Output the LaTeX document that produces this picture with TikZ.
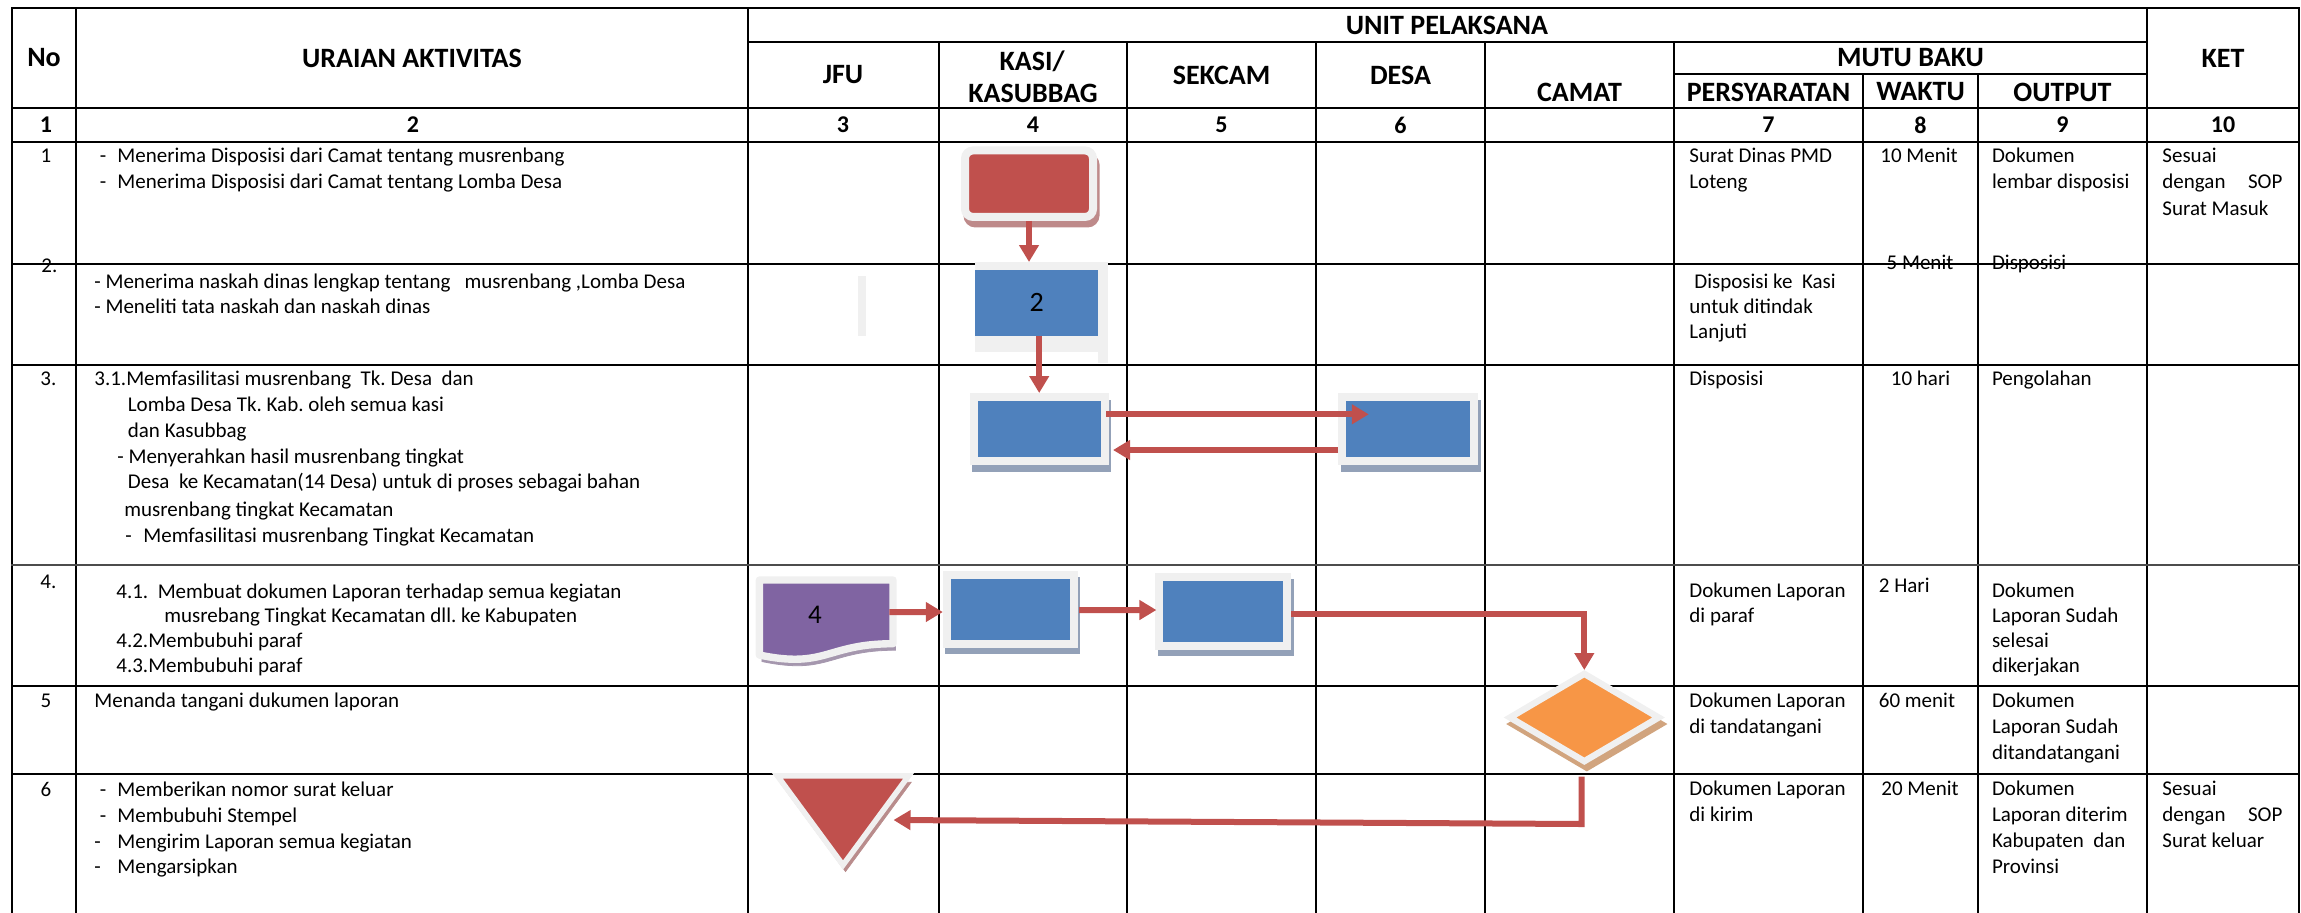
\documentclass[tikz,border=0pt]{standalone}
\usepackage{fontspec}
\setmainfont{Carlito}
\usetikzlibrary{arrows.meta,shapes.geometric,calc}
\frenchspacing
\definecolor{framegray}{HTML}{F0F0F0}
\definecolor{boxblue}{HTML}{4F81BD}
\definecolor{boxred}{HTML}{C0504D}
\definecolor{docpurple}{HTML}{8064A2}
\definecolor{decorange}{HTML}{F79646}
\definecolor{arrowred}{HTML}{C0504D}
\definecolor{blueshade}{HTML}{93A1B8}
\definecolor{redshade}{HTML}{BE8A8A}
\definecolor{purpleshade}{HTML}{A597AE}
\definecolor{orangeshade}{HTML}{D1A47E}
\definecolor{trishade}{HTML}{B98C8C}

\begin{document}
\begin{tikzpicture}[x=0.5pt,y=-0.5pt,
  gridline/.style={line width=1pt, black, line cap=rect},
  thinline/.style={line width=0.6pt, black!70, line cap=rect},
  hdr/.style={font=\fontsize{14}{16}\selectfont\bfseries, inner sep=0pt},
  num/.style={font=\fontsize{12}{14}\selectfont\bfseries, inner sep=0pt},
  txt/.style={font=\fontsize{10.5}{13}\selectfont, inner sep=0pt, anchor=base west},
  ctxt/.style={font=\fontsize{10.5}{13}\selectfont, inner sep=0pt, anchor=base},
  shadowed/.style={preaction={fill=#1, draw=#1, transform canvas={xshift=1.25pt,yshift=-3.25pt}}},
  procbox/.style={rectangle, fill=boxblue, draw=framegray, line width=4pt,
    inner sep=0pt, outer sep=0pt, shadowed=blueshade},
  flowarrow/.style={draw=arrowred, line width=3pt, -{Triangle[width=9.5pt,length=8.5pt]}},
]
\useasboundingbox (0,0) rectangle (2301,912);

% ---------- table grid ----------
\foreach \x in {12,76,748,2147,2299} \draw[gridline] (\x,8) -- (\x,912);
\foreach \x in {939,1127,1316,1485,1674} \draw[gridline] (\x,42) -- (\x,912);
\foreach \x in {1863,1978} \draw[gridline] (\x,74) -- (\x,912);
\draw[gridline] (748,42) -- (2147,42);
\draw[gridline] (1674,74) -- (2147,74);
\foreach \y in {8,108,142,263.5,364.5,686,774} \draw[gridline] (12,\y) -- (2299,\y);
\draw[thinline] (12,565) -- (2299,565);

% ---------- header ----------
\node[hdr] (hNo) at (44,58) {No};
\node[hdr] (hUraian) at (412,58) {URAIAN AKTIVITAS};
\node[hdr] (hUnit) at (1447,25) {UNIT PELAKSANA};
\node[hdr] (hJfu) at (843,75) {JFU};
\node[hdr] (hKasi) at (1032,61) {KASI/};
\node[hdr] (hKasub) at (1033,93) {KASUBBAG};
\node[hdr] (hSekcam) at (1221.5,75) {SEKCAM};
\node[hdr] (hDesa) at (1400.5,75) {DESA};
\node[hdr] (hCamat) at (1579.5,92) {CAMAT};
\node[hdr] (hMutu) at (1910.5,58) {MUTU BAKU};
\node[hdr] (hPers) at (1768.5,92) {PERSYARATAN};
\node[hdr] (hWaktu) at (1920.5,92) {WAKTU};
\node[hdr] (hOutput) at (2062.5,92) {OUTPUT};
\node[hdr] (hKet) at (2223,58) {KET};

% column numbers
\node[num] (c1) at (46,125) {1};
\node[num] (c2) at (413,125) {2};
\node[num] (c3) at (843,125) {3};
\node[num] (c4) at (1033,125) {4};
\node[num] (c5) at (1221.5,125) {5};
\node[num] (c6) at (1400.5,125) {6};
\node[num] (c7) at (1768.5,125) {7};
\node[num] (c8) at (1920.5,125) {8};
\node[num] (c9) at (2062.5,125) {9};
\node[num] (c10) at (2223,125) {10};

% ---------- row numbers ----------
\node[ctxt] (r1) at (46,162.5) {1};
\node[txt] (r2) at (41,272.5) {2.};
\node[txt] (r3) at (40,385.5) {3.};
\node[txt] (r4) at (40,588) {4.};
\node[ctxt] (r5) at (46,707) {5};
\node[ctxt] (r6) at (46,796.5) {6};

% ---------- activity descriptions ----------
\node[txt] (u1da) at (99.5,162.5) {-};
\node[txt] (u1a) at (117,162.5) {Menerima Disposisi dari Camat tentang musrenbang};
\node[txt] (u1db) at (99.5,188.5) {-};
\node[txt] (u1b) at (117,188.5) {Menerima Disposisi dari Camat tentang Lomba Desa};

\node[txt] (u2a) at (94,288.5) {- Menerima naskah dinas lengkap tentang\ \ \ musrenbang ,Lomba Desa};
\node[txt] (u2b) at (94,313.5) {- Meneliti tata naskah dan naskah dinas};

\node[txt] (u3a) at (94,385.5) {3.1.Memfasilitasi musrenbang\ \ Tk. Desa\ \ dan};
\node[txt] (u3b) at (127.5,411.5) {Lomba Desa Tk. Kab. oleh semua kasi};
\node[txt] (u3c) at (127.5,437.5) {dan Kasubbag};
\node[txt] (u3d) at (117,463.5) {- Menyerahkan hasil musrenbang tingkat};
\node[txt] (u3e) at (127.5,488.5) {Desa\ \ ke Kecamatan(14 Desa) untuk di proses sebagai bahan};
\node[txt] (u3f) at (124,516.5) {musrenbang tingkat Kecamatan};
\node[txt] (u3gd) at (125,542.5) {-};
\node[txt] (u3g) at (143,542.5) {Memfasilitasi musrenbang Tingkat Kecamatan};

\node[txt] (u4a) at (116,598) {4.1.\ \ Membuat dokumen Laporan terhadap semua kegiatan};
\node[txt] (u4b) at (164,622) {musrebang Tingkat Kecamatan dll. ke Kabupaten};
\node[txt] (u4c) at (116,647.5) {4.2.Membubuhi paraf};
\node[txt] (u4d) at (116,672.5) {4.3.Membubuhi paraf};

\node[txt] (u5a) at (94,707) {Menanda tangani dukumen laporan};

\node[txt] (u6da) at (99.5,796.5) {-};
\node[txt] (u6a) at (117,796.5) {Memberikan nomor surat keluar};
\node[txt] (u6db) at (99.5,822.5) {-};
\node[txt] (u6b) at (117,822.5) {Membubuhi Stempel};
\node[txt] (u6dc) at (94,848.5) {-};
\node[txt] (u6c) at (117,848.5) {Mengirim Laporan semua kegiatan};
\node[txt] (u6dd) at (94,873.5) {-};
\node[txt] (u6d) at (117,873.5) {Mengarsipkan};

% ---------- persyaratan ----------
\node[txt] (p1a) at (1689,162.5) {Surat\ Dinas\ PMD};
\node[txt] (p1b) at (1689,188.5) {Loteng};
\node[txt] (p2a) at (1694,288.5) {Disposisi ke\ \ Kasi};
\node[txt] (p2b) at (1689,313.5) {untuk ditindak};
\node[txt] (p2c) at (1689,338.5) {Lanjuti};
\node[txt] (p3a) at (1689,385.5) {Disposisi};
\node[txt] (p4a) at (1689,597) {Dokumen Laporan};
\node[txt] (p4b) at (1689,622) {di paraf};
\node[txt] (p5a) at (1689,707) {Dokumen Laporan};
\node[txt] (p5b) at (1689,733) {di tandatangani};
\node[txt] (p6a) at (1689,795.5) {Dokumen Laporan};
\node[txt] (p6b) at (1689,821) {di kirim};

% ---------- waktu ----------
\node[ctxt] (w1) at (1919,162.5) {10 Menit};
\node[ctxt] (w2) at (1920,269.5) {5 Menit};
\node[ctxt] (w3) at (1920.5,385.5) {10 hari};
\node[txt] (w4) at (1878.5,592) {2 Hari};
\node[txt] (w5) at (1878.5,707) {60 menit};
\node[txt] (w6) at (1881,795.5) {20 Menit};

% ---------- output ----------
\node[txt] (o1a) at (1991.6,162.5) {Dokumen};
\node[txt] (o1b) at (1991.6,188.5) {lembar disposisi};
\node[txt] (o2a) at (1991.6,269.5) {Disposisi};
\node[txt] (o3a) at (1991.6,385.5) {Pengolahan};
\node[txt] (o4a) at (1991.6,597) {Dokumen};
\node[txt] (o4b) at (1991.6,622) {Laporan Sudah};
\node[txt] (o4c) at (1991.6,647.5) {selesai};
\node[txt] (o4d) at (1991.6,672.5) {dikerjakan};
\node[txt] (o5a) at (1991.6,707) {Dokumen};
\node[txt] (o5b) at (1991.6,733) {Laporan Sudah};
\node[txt] (o5c) at (1991.6,759) {ditandatangani};
\node[txt] (o6a) at (1991.6,795.5) {Dokumen};
\node[txt] (o6b) at (1991.6,821) {Laporan diterim};
\node[txt] (o6c) at (1991.6,847) {Kabupaten\ \ dan};
\node[txt] (o6d) at (1991.6,873.5) {Provinsi};

% ---------- keterangan ----------
\node[txt] (k1a) at (2162,162.5) {Sesuai};
\node[txt] (k1b) at (2162,188.5) {\hbox to 60pt{dengan\hfill SOP}};
\node[txt] (k1c) at (2162,215.5) {Surat Masuk};
\node[txt] (k6a) at (2162,795.5) {Sesuai};
\node[txt] (k6b) at (2162,821) {\hbox to 60pt{dengan\hfill SOP}};
\node[txt] (k6c) at (2162,847) {Surat keluar};

% ---------- flowchart symbols ----------
% start terminal
\node[rectangle, rounded corners=4pt, fill=boxred, draw=framegray, line width=4pt,
  inner sep=0pt, outer sep=0pt, minimum width=64pt, minimum height=33.25pt,
  shadowed=redshade] (start) at (1029,183.7) {};

% light strip and framed process box of step 2
\fill[framegray] (858,276) rectangle (865.7,335.7);
\fill[framegray] (975,262.3) rectangle (1108.3,351.7);
\fill[framegray] (1098.3,351.7) rectangle (1108.3,363.3);
\node[rectangle, fill=boxblue, inner sep=0pt, outer sep=0pt, minimum width=61.65pt,
  minimum height=32.85pt, font=\fontsize{14}{16}\selectfont] (box2) at (1036.65,302.85) {2};

% step 3 boxes
\node[procbox, minimum width=65.5pt, minimum height=32pt] (box3a) at (1039.2,429) {};
\node[procbox, minimum width=66pt, minimum height=32pt] (box3b) at (1408,429) {};

% step 4: document and boxes
\node[rectangle, inner sep=0pt, outer sep=0pt, minimum width=66.8pt, minimum height=39.7pt] (doc) at (826.2,619.7) {};
\path[fill=docpurple, draw=framegray, line width=3.7pt, line join=round, shadowed=purpleshade]
  (759.4,580) -- (893,580) -- (893,643.7)
  .. controls (826.2,643.7) and (826.2,669) .. (759.4,655) -- cycle;
\node[font=\fontsize{13.5}{15}\selectfont, inner sep=0pt] (docnum) at (815,615) {4};
\node[procbox, minimum width=63.5pt, minimum height=34.65pt] (box4a) at (1010.3,609.3) {};
\node[procbox, minimum width=64pt, minimum height=34.65pt] (box4b) at (1223,611.3) {};

% step 5 decision
\node[diamond, fill=decorange, draw=framegray, line width=3.2pt, inner sep=0pt, outer sep=0pt,
  minimum width=74.3pt, minimum height=43.7pt, shadowed=orangeshade] (dia) at (1584.3,717.5) {};

% step 6 end (merge triangle)
\coordinate (tril) at (777.4,775.8);
\coordinate (trir) at (908.6,775.8);
\coordinate (trib) at (843,865);
\path[fill=boxred, draw=framegray, line width=2.75pt, shadowed=trishade] (tril) -- (trir) -- (trib) -- cycle;
\coordinate (trie) at (893.5,820);

% ---------- connectors ----------
\draw[flowarrow, shorten <=2pt, shorten >=4pt] (start.south) -- (start.south |- box2.north);
\draw[flowarrow, shorten >=2pt] (box3a.north |- box2.south) -- (box3a.north);
\draw[flowarrow] ($(box3a.east)+(1.3,-14.7)$) -- ($(box3b.west)+(26.8,-14.7)$);
\draw[flowarrow] ($(box3b.west)+(-4,21)$) -- ($(box3a.east)+(8.3,21)$);
\draw[flowarrow] ($(doc.east)+(-3.7,-7.7)$) -- ($(box4a.west)+(-4,2.7)$);
\draw[flowarrow] ($(box4a.east)+(5.3,0.7)$) -- ($(box4b.west)+(-2.6,-1.3)$);
\draw[flowarrow] ($(box4b.east)+(4,2.7)$) -| ($(dia.north)+(0,-3.8)$);
\draw[flowarrow] ($(dia.south)+(-2.6,15.5)$) -- ($(dia.south)+(-2.6,62.8)$) -- (trie);
\end{tikzpicture}
\end{document}
